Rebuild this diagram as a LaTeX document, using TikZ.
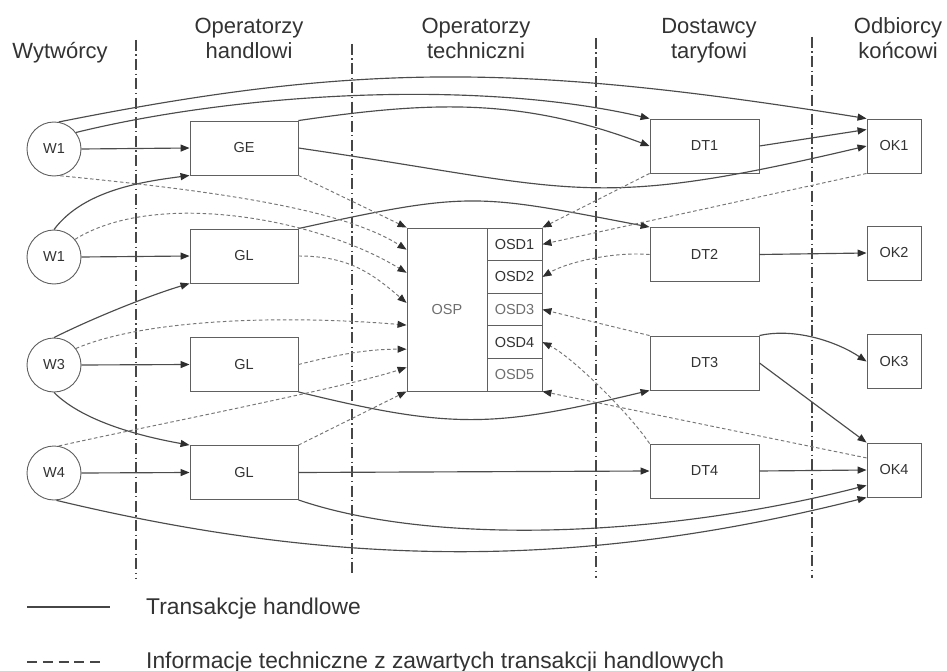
\documentclass[tikz,border=0pt]{standalone}
\usepackage{fontspec}
\setmainfont{Liberation Sans}
\usetikzlibrary{arrows.meta,calc}

\definecolor{ink}{HTML}{333333}
\definecolor{softink}{HTML}{6E6E6E}
\definecolor{edge}{HTML}{4C4C4C}
\definecolor{dashcol}{HTML}{767676}
\definecolor{frame}{HTML}{606060}
\definecolor{sepcol}{HTML}{464646}
\definecolor{tipcol}{HTML}{2E2E2E}

\begin{document}
\begin{tikzpicture}[x=1pt,y=-1pt,
  every node/.style={text=ink},
  head/.style={font=\fontsize{22}{26}\selectfont,inner sep=0pt,anchor=base},
  keytext/.style={font=\fontsize{22.8}{26}\selectfont,inner sep=0pt,anchor=base west},
  producer/.style={circle,draw=frame,line width=0.9pt,minimum size=54pt,inner sep=0pt,
    font=\fontsize{14.5}{14.5}\selectfont},
  unit/.style={rectangle,draw=frame,line width=0.9pt,minimum width=108pt,minimum height=54pt,
    inner sep=0pt,font=\fontsize{14.5}{14.5}\selectfont},
  client/.style={unit,minimum width=54pt},
  cell/.style={rectangle,draw=frame,line width=0.9pt,minimum width=55pt,minimum height=32.6pt,
    inner sep=0pt,font=\fontsize{14.5}{14.5}\selectfont},
  tip/.style={-{Triangle[length=9pt,width=7pt,color=tipcol]}},
  trade/.style={draw=edge,line width=1.15pt,tip},
  info/.style={draw=dashcol,line width=0.95pt,dash pattern=on 3.5pt off 2.5pt,tip},
  colsep/.style={draw=sepcol,line width=1.3pt,dash pattern=on 11pt off 3.5pt on 1.2pt off 3.5pt},
  keyline/.style={draw=sepcol,line width=1.3pt},
  keydash/.style={draw=sepcol,line width=1.3pt,dash pattern=on 10pt off 5.8pt}
]
\fill[white] (0,0) rectangle (947,671);
\useasboundingbox (0,0) rectangle (947,671);

% column headings
\node[head] (hW) at (60,59) {Wytwórcy};
\node[head] (hOH1) at (249,34) {Operatorzy};
\node[head] (hOH2) at (249,59) {handlowi};
\node[head] (hOT1) at (476,34) {Operatorzy};
\node[head] (hOT2) at (476,59) {techniczni};
\node[head] (hDT1) at (709,34) {Dostawcy};
\node[head] (hDT2) at (709,59) {taryfowi};
\node[head] (hOK1) at (898,34) {Odbiorcy};
\node[head] (hOK2) at (898,59) {końcowi};

% column separators
\coordinate (sA1) at (136,40); \coordinate (sA2) at (136,579);
\coordinate (sB1) at (352,44); \coordinate (sB2) at (352,576);
\coordinate (sC1) at (596,38); \coordinate (sC2) at (596,578);
\coordinate (sD1) at (812,37); \coordinate (sD2) at (812,578);
\draw[colsep] (sA1) -- (sA2);
\draw[colsep] (sB1) -- (sB2);
\draw[colsep] (sC1) -- (sC2);
\draw[colsep] (sD1) -- (sD2);

% producers
\node[producer] (W1a) at (54,149) {W1};
\node[producer] (W1b) at (54,257) {W1};
\node[producer] (W3)  at (54,365) {W3};
\node[producer] (W4)  at (54,473) {W4};

% trading operators
\node[unit] (GE)  at (244,148) {GE};
\node[unit] (GL1) at (244,256) {GL};
\node[unit] (GL2) at (244,364.5) {GL};
\node[unit] (GL3) at (244,472.5) {GL};

% technical operators
\node[rectangle,draw=frame,line width=0.9pt,minimum width=80pt,minimum height=163pt,inner sep=0pt,
  font=\fontsize{14.5}{14.5}\selectfont,text=softink] (OSP) at (447,309.5) {OSP};
\node[cell] (OSD1) at (514.5,244.3) {OSD1};
\node[cell] (OSD2) at (514.5,276.9) {OSD2};
\node[cell,text=softink] (OSD3) at (514.5,309.5) {OSD3};
\node[cell] (OSD4) at (514.5,342.1) {OSD4};
\node[cell,text=softink] (OSD5) at (514.5,374.7) {OSD5};

% tariff suppliers
\node[unit,minimum width=109pt] (DT1) at (704.5,146) {DT1};
\node[unit,minimum width=109pt] (DT2) at (704.5,254.5) {DT2};
\node[unit,minimum width=109pt] (DT3) at (704.5,363) {DT3};
\node[unit,minimum width=109pt] (DT4) at (704.5,471) {DT4};

% end customers
\node[client] (OK1) at (894,146) {OK1};
\node[client] (OK2) at (894,253) {OK2};
\node[client] (OK3) at (894,361.5) {OK3};
\node[client] (OK4) at (894,470) {OK4};

% attachment points on box sides
\coordinate (ok1b) at ($(OK1.north west)!0.2!(OK1.south west)$);
\coordinate (ok4a) at ($(OK4.north west)!0.28!(OK4.south west)$);
\coordinate (ok4c) at ($(OK4.north west)!0.78!(OK4.south west)$);
\coordinate (ospA) at ($(OSP.north west)!0.135!(OSP.south west)$);
\coordinate (ospB) at ($(OSP.north west)!0.276!(OSP.south west)$);
\coordinate (ospC) at ($(OSP.north west)!0.46!(OSP.south west)$);
\coordinate (ospD) at ($(OSP.north west)!0.595!(OSP.south west)$);
\coordinate (ospE) at ($(OSP.north west)!0.742!(OSP.south west)$);
\coordinate (ospF) at ($(OSP.north west)!0.853!(OSP.south west)$);

% trading transactions
\draw[trade] (W1a.east) -- (GE.west);
\draw[trade] (W1a.80) .. controls +(296,-59) and +(-348,-56) .. (OK1.north west);
\draw[trade] (W1a.37) .. controls +(168,-41) and +(-168,-39) .. (DT1.north west);
\draw[trade] (GE.north east) .. controls +(130,-19) and +(-130,-49) .. (DT1.west);
\draw[trade] (GE.east) .. controls +(280,41) and +(-280,66) .. (OK1.west);
\draw[trade] (DT1.east) -- (ok1b);
\draw[trade] (W1b.90) .. controls +(30,-40) and +(-45,6) .. (GE.south west);
\draw[trade] (W1b.east) -- (GL1.west);
\draw[trade] (GL1.north east) .. controls +(173,-38) and +(-173,-33) .. (DT2.north west);
\draw[trade] (W3.90) .. controls +(40,-20) and +(-40,12) .. (GL1.south west);
\draw[trade] (W3.east) -- (GL2.west);
\draw[trade] (W3.270) .. controls +(30,30) and +(-45,-8) .. (GL3.north west);
\draw[trade] (GL2.south east) .. controls +(155,38) and +(-155,37) .. (DT3.south west);
\draw[trade] (DT2.east) -- (OK2.west);
\draw[trade] (DT3.north east) .. controls +(35,-8) and +(-30,-20) .. (OK3.west);
\draw[trade] (DT3.east) -- (OK4.north west);
\draw[trade] (W4.east) -- (GL3.west);
\draw[trade] (GL3.east) -- (DT4.west);
\draw[trade] (DT4.east) -- (OK4.west);
\draw[trade] (GL3.south east) .. controls +(138,47) and +(-198,51) .. (ok4c);
\draw[trade] (W4.275) .. controls +(296,71) and +(-275,69) .. (OK4.south west);

% technical information flows
\draw[info] (GE.south east) -- (OSP.north west);
\draw[info] (W1a.283) .. controls +(120,12) and +(-70,-45) .. (ospA);
\draw[info] (W1b.40) .. controls +(80,-50) and +(-90,-55) .. (ospB);
\draw[info] (GL1.east) .. controls +(50,0) and +(-35,-30) .. (ospC);
\draw[info] (W3.37) .. controls +(70,-30) and +(-120,-10) .. (ospD);
\draw[info] (GL2.east) .. controls +(40,-10) and +(-40,0) .. (ospE);
\draw[info] (W4.80) .. controls +(80,-18) and +(-60,20) .. (ospF);
\draw[info] (GL3.north east) -- (OSP.south west);
\draw[info] (DT1.south west) -- (OSD1.north east);
\draw[info] (OK1.south west) -- (OSD1.east);
\draw[info] (DT2.west) .. controls +(-35,-3) and +(25,-15) .. (OSD2.east);
\draw[info] (DT3.north west) -- (OSD3.east);
\draw[info] (DT4.north west) .. controls +(-20,-30) and +(30,15) .. (OSD4.east);
\draw[info] (ok4a) -- (OSD5.south east);

% legend
\coordinate (keyA) at (27,607); \coordinate (keyB) at (110,607);
\coordinate (keyC) at (27,662); \coordinate (keyD) at (101,662);
\draw[keyline] (keyA) -- (keyB);
\draw[keydash] (keyC) -- (keyD);
\node[keytext] (keyT1) at (146,614) {Transakcje handlowe};
\node[keytext] (keyT2) at (146,668) {Informacje techniczne z zawartych transakcji handlowych};
\end{tikzpicture}
\end{document}
